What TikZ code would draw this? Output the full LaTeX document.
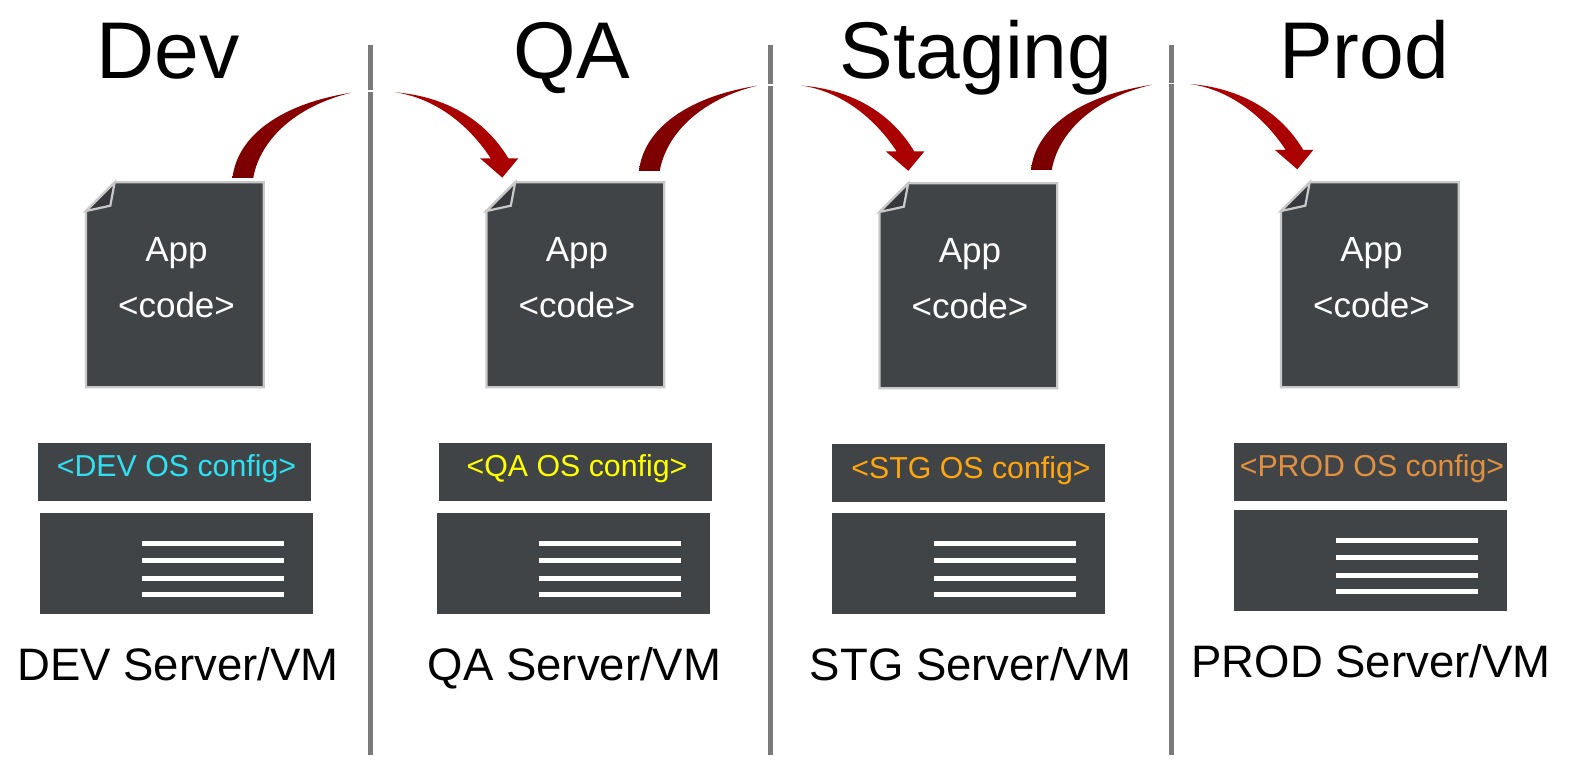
\documentclass[tikz,border=0pt]{standalone}
\usepackage{fontspec}
\setmainfont{Liberation Sans}
\definecolor{slab}{HTML}{414447}
\definecolor{foldc}{HTML}{36383B}
\definecolor{edgec}{HTML}{C9C9C9}
\definecolor{divc}{HTML}{7A7A7A}
\definecolor{arrhi}{HTML}{AA0000}
\definecolor{arrtop}{HTML}{8C0000}
\definecolor{arrlo}{HTML}{7A0000}
\definecolor{devc}{HTML}{2FE0F2}
\definecolor{qac}{HTML}{FFFF00}
\definecolor{stgc}{HTML}{FFA60F}
\definecolor{prodc}{HTML}{E0903F}
\tikzset{
  titletext/.style={anchor=base,font=\fontsize{80.4}{80.4}\selectfont,text=black,inner sep=0pt},
  apptext/.style={anchor=base,font=\fontsize{35}{35}\selectfont,text=white,inner sep=0pt},
  ostext/.style={anchor=base,font=\fontsize{30.3}{30.3}\selectfont,inner sep=0pt},
  srvtext/.style={anchor=base,font=\fontsize{45.5}{45.5}\selectfont,text=black,inner sep=0pt},
  barbox/.style={anchor=north west,fill=slab,minimum width=273pt,minimum height=58pt,inner sep=0pt,draw=none},
  srvbox/.style={anchor=north west,fill=slab,minimum width=273pt,minimum height=101pt,inner sep=0pt,draw=none},
  docbody/.style={fill=slab,draw=edgec,line width=2.2pt,line join=miter},
  docfold/.style={fill=foldc,draw=edgec,line width=2.2pt,line join=miter},
  divline/.style={draw=divc,line width=4.5pt},
  gapline/.style={draw=white,line width=1.6pt},
  srvline/.style={draw=white,line width=5pt},
  outarrow/.style={top color=arrtop,bottom color=arrlo,draw=none},
  inarrow/.style={fill=arrhi,draw=none},
}
% #1 name, #2 left, #3 top
\newcommand{\appdoc}[3]{%
  \coordinate (#1nw) at (#2,#3);
  \draw[docbody] (#2+28.7,#3) -- (#2+177.7,#3) -- (#2+177.7,#3+205) -- (#2,#3+205) -- (#2,#3+28.7) -- cycle;
  \draw[docfold] (#2+28.7,#3) -- (#2,#3+28.7) -- (#2+24.3,#3+23.4) -- cycle;
  \node[apptext] (#1app) at (#2+90.5,#3+79) {App};
  \node[apptext] (#1code) at (#2+90.5,#3+135.5) {<code>};
}
% #1 name, #2 bar x, #3 bar y, #4 srv x, #5 srv y, #6 colour, #7 text, #8 text cx
\newcommand{\hostset}[8]{%
  \node[barbox] (#1bar) at (#2,#3) {};
  \node[ostext,text=#6] (#1os) at (#8,#3+34) {#7};
  \node[srvbox] (#1srv) at (#4,#5) {};
  \draw[srvline] (#4+102,#5+30.5) -- (#4+244,#5+30.5);
  \draw[srvline] (#4+102,#5+48) -- (#4+244,#5+48);
  \draw[srvline] (#4+102,#5+65.5) -- (#4+244,#5+65.5);
  \draw[srvline] (#4+102,#5+81.5) -- (#4+244,#5+81.5);
}
% #1 tail-left x, #2 tail y, #3 tip dx
\newcommand{\outarc}[3]{%
  \path[outarrow] (#1,#2) .. controls (#1+4,#2-38) and (#1+42,#2-73) .. (#1+#3,#2-85.3)
     .. controls (#1+60,#2-71) and (#1+27,#2-36) .. (#1+20.7,#2) -- cycle;
}
% #1 start x, #2 start y
\newcommand{\inarc}[2]{%
  \path[inarrow] (#1,#2) .. controls (#1+50,#2+4) and (#1+90,#2+27) .. (#1+113.3,#2+66)
     -- (#1+123.3,#2+66) -- (#1+107.3,#2+85.3) -- (#1+85,#2+66) -- (#1+95.7,#2+66)
     .. controls (#1+70,#2+27) and (#1+35,#2+5) .. (#1,#2) -- cycle;
}
\begin{document}
\begin{tikzpicture}[x=1pt,y=-1pt]
\useasboundingbox (0,0) rectangle (1573,762);
% dividers
\coordinate (d1a) at (370.5,45); \coordinate (d1b) at (370.5,755);
\coordinate (d2a) at (770.5,45); \coordinate (d2b) at (770.5,755);
\coordinate (d3a) at (1171.5,45); \coordinate (d3b) at (1171.5,755);
\draw[divline] (d1a) -- (d1b);
\draw[divline] (d2a) -- (d2b);
\draw[divline] (d3a) -- (d3b);
\draw[gapline] (368,91) -- (373,91);
\draw[gapline] (768,85) -- (773,85);
\draw[gapline] (1169,83.5) -- (1174,83.5);
% titles
\node[titletext] (tdev) at (168,79) {Dev};
\node[titletext] (tqa) at (572,79) {QA};
\node[titletext] (tstg) at (976,79) {Staging};
\node[titletext] (tprod) at (1364,79) {Prod};
% documents
\appdoc{a}{86}{182.3}
\appdoc{b}{486.5}{182.3}
\appdoc{c}{879.5}{183.3}
\appdoc{e}{1281}{182.3}
% host stacks
\hostset{a}{38}{442.5}{40}{512.5}{devc}{<DEV OS config>}{176.5}
\hostset{b}{438.5}{442.5}{436.5}{512.5}{qac}{<QA OS config>}{577}
\hostset{c}{832}{444}{832}{512.5}{stgc}{<STG OS config>}{971}
\hostset{e}{1234}{442.5}{1234}{509.5}{prodc}{<PROD OS config>}{1372}
% server labels
\node[srvtext] (sa) at (178,680) {DEV Server/VM};
\node[srvtext] (sb) at (574.5,680) {QA Server/VM};
\node[srvtext] (sc) at (970.5,680) {STG Server/VM};
\node[srvtext] (se) at (1371,677) {PROD Server/VM};
% arrows
\outarc{232.5}{178}{118.7}
\inarc{395}{92.3}
\outarc{639}{171}{118}
\inarc{801}{85.5}
\outarc{1031}{170}{121}
\inarc{1190}{84}
\end{tikzpicture}
\end{document}
